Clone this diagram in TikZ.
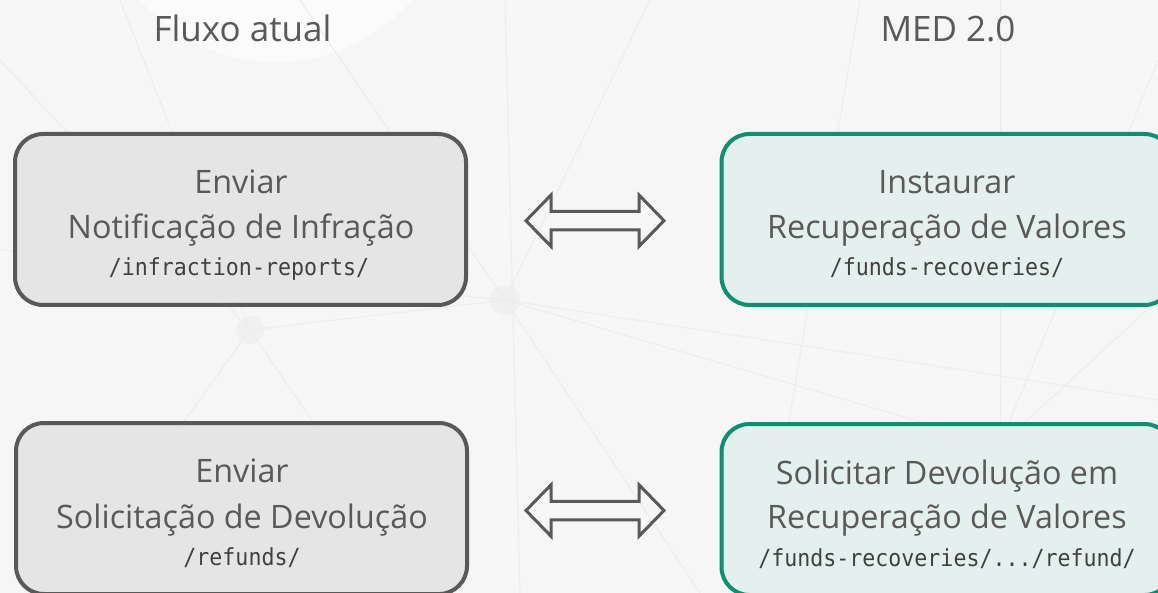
\documentclass[tikz,border=0pt]{standalone}
\usepackage{fontspec}
\setmainfont{Open Sans}
\newfontfamily\monof[FakeStretch=0.92]{DejaVu Sans Mono}
\definecolor{bgcol}{HTML}{F6F6F6}
\definecolor{netcol}{HTML}{ECECEC}
\definecolor{txtcol}{HTML}{595959}
\definecolor{monocol}{HTML}{404040}
\definecolor{grayline}{HTML}{595959}
\definecolor{grayfill}{HTML}{E4E4E4}
\definecolor{greenline}{HTML}{0A9270}
\definecolor{greenfill}{HTML}{E2F0EE}
\tikzset{
  oldbox/.style={draw=grayline, fill=grayfill, fill opacity=0.9, line width=4pt,
    rounded corners=28pt, minimum width=451pt, minimum height=171pt, inner sep=0pt},
  newbox/.style={draw=greenline, fill=greenfill, fill opacity=0.9, line width=4pt,
    rounded corners=28pt, minimum width=451pt, minimum height=171pt, inner sep=0pt},
  bigtxt/.style={anchor=base, inner sep=0pt, text=txtcol, font=\fontsize{32.3}{32}\selectfont},
  titletxt/.style={anchor=base, inner sep=0pt, text=txtcol, font=\fontsize{35}{35}\selectfont},
  monotxt/.style={anchor=base, inner sep=0pt, text=monocol, font=\monof\fontsize{23.5}{23.5}\selectfont},
  blockarrow/.style={draw=grayline, line width=3pt, line join=miter},
  net/.style={draw=netcol, line width=1pt},
  netdot/.style={fill=netcol, opacity=0.5}
}
\begin{document}
\begin{tikzpicture}[x=1pt,y=-1pt]
\useasboundingbox (0,0) rectangle (1158,593);
\clip (0,0) rectangle (1158,593);
% background
\fill[bgcol] (0,0) rectangle (1158,593);
\fill[white, opacity=0.6] (276,-118) circle (180);
\path[net] (0,60) -- (250,330) -- (60,593);
\path[net] (505,0) -- (520,593);
\path[net] (250,330) -- (505,300) -- (1000,445);
\path[net] (0,250) -- (505,300) -- (1158,400);
\path[net] (120,0) -- (250,330);
\path[net] (300,0) -- (505,300);
\path[net] (505,300) -- (700,593);
\path[net] (1000,445) -- (1158,300);
\path[net] (1000,445) -- (1000,0);
\path[net] (1000,445) -- (820,593);
\path[net] (650,0) -- (505,300);
\path[net] (1158,60) -- (1000,445);
\path[net] (250,330) -- (430,593);
\path[net] (860,0) -- (760,593);
\path[netdot] (250,330) circle (14);
\path[netdot] (505,300) circle (15);
\path[netdot] (1000,445) circle (18);
\path[netdot] (45,250) circle (12);
\path[netdot] (25,560) circle (12);
% titles
\node[titletxt] (t1) at (242.5,42) {Fluxo atual};
\node[titletxt] (t2) at (948,42) {MED 2.0};
% boxes
\node[oldbox] (a) at (240.5,219.5) {};
\node[newbox] (b) at (947,219.5) {};
\node[oldbox] (c) at (241.5,508.5) {};
\node[newbox] (d) at (947,509.5) {};
% box texts
\node[bigtxt] (a1) at (241,194) {Enviar};
\node[bigtxt] (a2) at (241,238.3) {Notificação de Infração};
\node[monotxt] (a3) at (239,276) {/infraction-reports/};
\node[bigtxt] (b1) at (947,194) {Instaurar};
\node[bigtxt] (b2) at (947,238.3) {Recuperação de Valores};
\node[monotxt] (b3) at (947,276) {/funds-recoveries/};
\node[bigtxt] (c1) at (242,482) {Enviar};
\node[bigtxt] (c2) at (242,528) {Solicitação de Devolução};
\node[monotxt] (c3) at (242,565.5) {/refunds/};
\node[bigtxt] (d1) at (947,484) {Solicitar Devolução em};
\node[bigtxt] (d2) at (947,528) {Recuperação de Valores};
\node[monotxt] (d3) at (947,566) {/funds-recoveries/.../refund/};
% block arrows
\draw[blockarrow] (526,220.7) -- (551,195) -- (551,211.5) -- (639,211.5) -- (639,195)
  -- (664,220.7) -- (639,246.4) -- (639,230) -- (551,230) -- (551,246.4) -- cycle;
\draw[blockarrow] (526,510.5) -- (551,484.8) -- (551,501.3) -- (639,501.3) -- (639,484.8)
  -- (664,510.5) -- (639,536.2) -- (639,519.8) -- (551,519.8) -- (551,536.2) -- cycle;
\end{tikzpicture}
\end{document}
